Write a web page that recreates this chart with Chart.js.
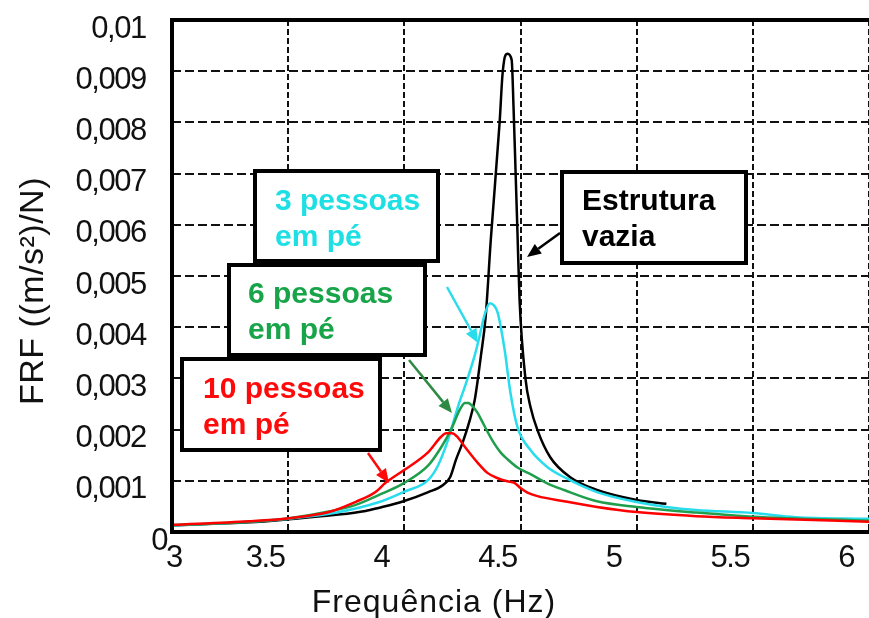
<!DOCTYPE html>
<html>
<head>
<meta charset="utf-8">
<title>FRF</title>
<script src="https://cdn.jsdelivr.net/npm/chart.js@4.4.0/dist/chart.umd.min.js"></script>
<style>
  html, body { margin: 0; padding: 0; background: #fff; }
  canvas { display: block; }
</style>
</head>
<body>
<canvas id="frf" width="869" height="618"></canvas>
<script>
// FRF curves, frequency in Hz, FRF in (m/s²)/N
const blackFreq = [3.0, 3.333, 3.504, 3.697, 3.833, 3.889, 3.996, 4.103, 4.167, 4.197, 4.222, 4.252, 4.282, 4.303, 4.316, 4.329, 4.350, 4.372, 4.410, 4.423, 4.436, 4.444, 4.462, 4.470, 4.479, 4.487, 4.496, 4.521, 4.543, 4.573, 4.628, 4.714, 4.829, 5.0, 5.128];
const blackFrf = [0.00013, 0.00019, 0.00025, 0.00033, 0.00041, 0.00047, 0.00060, 0.00078, 0.00092, 0.00107, 0.00141, 0.00176, 0.00219, 0.00258, 0.00297, 0.00342, 0.00420, 0.00570, 0.00799, 0.00896, 0.00932, 0.00934, 0.00922, 0.00830, 0.00701, 0.00584, 0.00453, 0.00301, 0.00244, 0.00199, 0.00146, 0.00107, 0.00082, 0.000625, 0.00055];

const cyanFreq = [3.0, 3.333, 3.504, 3.697, 3.889, 3.996, 4.103, 4.145, 4.188, 4.231, 4.265, 4.303, 4.320, 4.346, 4.368, 4.385, 4.402, 4.432, 4.457, 4.487, 4.543, 4.615, 4.688, 4.829, 5.0, 5.128, 5.256, 5.5, 5.684, 6.0];
const cyanFrf = [0.00013, 0.00020, 0.00026, 0.00037, 0.00058, 0.00078, 0.00102, 0.00130, 0.00180, 0.00245, 0.00290, 0.00345, 0.00375, 0.00425, 0.00447, 0.00443, 0.00428, 0.00355, 0.00271, 0.00205, 0.00160, 0.00127, 0.00107, 0.00078, 0.000586, 0.00049, 0.00043, 0.00037, 0.00029, 0.00026];

const greenFreq = [3.0, 3.333, 3.504, 3.675, 3.791, 3.889, 3.996, 4.103, 4.158, 4.201, 4.240, 4.261, 4.275, 4.295, 4.316, 4.337, 4.359, 4.380, 4.415, 4.444, 4.487, 4.543, 4.615, 4.688, 4.829, 5.0, 5.256, 5.5, 6.0];
const greenFrf = [0.00013, 0.00020, 0.00027, 0.00040, 0.00053, 0.00072, 0.00095, 0.00130, 0.00165, 0.00200, 0.00240, 0.00252, 0.00252, 0.00245, 0.00232, 0.00214, 0.00195, 0.00178, 0.00155, 0.00142, 0.00126, 0.00113, 0.00095, 0.00082, 0.00060, 0.00049, 0.00038, 0.00030, 0.00022];

const redFreq = [3.0, 3.333, 3.504, 3.675, 3.791, 3.876, 3.919, 3.996, 4.103, 4.158, 4.180, 4.205, 4.230, 4.261, 4.316, 4.359, 4.402, 4.444, 4.474, 4.5, 4.53, 4.573, 4.688, 4.829, 5.0, 5.256, 5.5, 6.0];
const redFrf = [0.00014, 0.00021, 0.00027, 0.00039, 0.00059, 0.00078, 0.00096, 0.00120, 0.00156, 0.00186, 0.00193, 0.00193, 0.00185, 0.00166, 0.00135, 0.00115, 0.00105, 0.00099, 0.00096, 0.00086, 0.00077, 0.00070, 0.00060, 0.00049, 0.00039, 0.00031, 0.00027, 0.00020];

const xTicks = [3, 3.5, 4, 4.5, 5, 5.5, 6];
const yMax = 0.01;

const FONT = '"Liberation Sans", Arial, sans-serif';

function pairs(xs, ys) {
  return xs.map((x, i) => ({ x, y: ys[i] }));
}

function yLabel(v) {
  const k = Math.round(v * 1000);
  if (k === 0) return '0';
  if (k === 10) return '0,01   ';
  return '0,00' + k + '   ';
}

// callout boxes with arrows pointing at each curve
const notes = [
  { lines: ['3 pessoas', 'em pé'], color: '#1ee0e4', box: [253, 169, 440, 263], tx: 275, ty: 210, arrow: [447, 287, 478, 343], arrowColor: '#2adcea' },
  { lines: ['6 pessoas', 'em pé'], color: '#18a449', box: [227, 263, 427, 357], tx: 248, ty: 303, arrow: [409, 360, 452, 413], arrowColor: '#2e8a42' },
  { lines: ['10 pessoas', 'em pé'], color: '#ff0a0a', box: [180, 357, 382, 452], tx: 203, ty: 398, arrow: [368, 453, 389, 483], arrowColor: '#ff0a0a' },
  { lines: ['Estrutura', 'vazia'], color: '#000', box: [560, 170, 748, 265], tx: 582, ty: 210, arrow: [560, 233, 527, 257], arrowColor: '#000' }
];

function drawArrow(ctx, x1, y1, x2, y2, color) {
  const ang = Math.atan2(y2 - y1, x2 - x1);
  const len = 14, half = 6;
  const bx = x2 - len * Math.cos(ang), by = y2 - len * Math.sin(ang);
  ctx.strokeStyle = color;
  ctx.fillStyle = color;
  ctx.lineWidth = 2.5;
  ctx.beginPath();
  ctx.moveTo(x1, y1);
  ctx.lineTo(bx, by);
  ctx.stroke();
  ctx.beginPath();
  ctx.moveTo(x2, y2);
  ctx.lineTo(bx + half * Math.sin(ang), by - half * Math.cos(ang));
  ctx.lineTo(bx - half * Math.sin(ang), by + half * Math.cos(ang));
  ctx.closePath();
  ctx.fill();
}

const tightText = {
  id: 'tightText',
  beforeLayout(chart) { chart.ctx.letterSpacing = '-1.5px'; },
  beforeDraw(chart) { chart.ctx.letterSpacing = '-1.5px'; }
};

const decorations = {
  id: 'decorations',
  afterDraw(chart) {
    const ctx = chart.ctx;
    const a = chart.chartArea;
    ctx.save();

    // frame
    ctx.strokeStyle = '#000';
    ctx.lineWidth = 4;
    ctx.beginPath();
    ctx.moveTo(a.right + 2, a.top);
    ctx.lineTo(a.left, a.top);
    ctx.lineTo(a.left, a.bottom);
    ctx.lineTo(a.right + 2, a.bottom);
    ctx.stroke();

    // callouts
    notes.forEach(n => {
      drawArrow(ctx, ...n.arrow, n.arrowColor);
      const [x1, y1, x2, y2] = n.box;
      ctx.fillStyle = '#fff';
      ctx.fillRect(x1, y1, x2 - x1, y2 - y1);
      ctx.strokeStyle = '#000';
      ctx.lineWidth = 4;
      ctx.strokeRect(x1 + 2, y1 + 2, x2 - x1 - 4, y2 - y1 - 4);
      ctx.letterSpacing = '0px';
      ctx.font = 'bold 30px ' + FONT;
      ctx.fillStyle = n.color;
      ctx.textAlign = 'left';
      ctx.textBaseline = 'alphabetic';
      n.lines.forEach((t, i) => ctx.fillText(t, n.tx, n.ty + i * 36));
    });

    // axis titles
    ctx.fillStyle = '#111';
    ctx.font = '32px ' + FONT;
    ctx.letterSpacing = '1px';
    ctx.textAlign = 'center';
    ctx.textBaseline = 'alphabetic';
    ctx.fillText('Frequência (Hz)', 434, 612);

    ctx.translate(43, 291);
    ctx.rotate(-Math.PI / 2);
    ctx.font = '34px ' + FONT;
    ctx.letterSpacing = '0.5px';
    ctx.fillText('FRF ((m/s²)/N)', 0, 0);
    ctx.restore();
  }
};

new Chart(document.getElementById('frf'), {
  type: 'line',
  data: {
    datasets: [
      { label: 'Estrutura vazia', data: pairs(blackFreq, blackFrf), borderColor: '#000000', order: 3 },
      { label: '3 pessoas em pé', data: pairs(cyanFreq, cyanFrf), borderColor: '#27dcec', order: 2 },
      { label: '6 pessoas em pé', data: pairs(greenFreq, greenFrf), borderColor: '#1f9e4c', order: 1 },
      { label: '10 pessoas em pé', data: pairs(redFreq, redFrf), borderColor: '#ff0000', order: 0 }
    ]
  },
  options: {
    responsive: false,
    animation: false,
    devicePixelRatio: 1,
    elements: {
      point: { radius: 0 },
      line: { borderWidth: 2.5, cubicInterpolationMode: 'monotone', fill: false }
    },
    layout: { padding: { top: 20, right: -5, bottom: 0, left: 0 } },
    plugins: { legend: { display: false }, tooltip: { enabled: false } },
    scales: {
      x: {
        type: 'linear',
        min: xTicks[0],
        max: xTicks[xTicks.length - 1],
        afterBuildTicks(scale) { scale.ticks = xTicks.map(v => ({ value: v })); },
        afterFit(scale) { scale.height = 86; scale.paddingLeft = 0; scale.paddingRight = 0; },
        ticks: {
          font: { family: FONT, size: 31 },
          color: '#111',
          padding: 8,
          labelOffset: -23,
          maxRotation: 0,
          autoSkip: false,
          callback: v => (v === 3 ? '       3' : String(v))
        },
        grid: { color: '#111', lineWidth: 2, drawTicks: false },
        border: { display: false, dash: [6, 3] }
      },
      y: {
        min: 0,
        max: yMax,
        afterFit(scale) { scale.width = 172; scale.paddingTop = 0; scale.paddingBottom = 0; },
        ticks: {
          stepSize: 0.001,
          font: { family: FONT, size: 31 },
          color: '#111',
          padding: 5,
          labelOffset: 9,
          callback: yLabel
        },
        grid: { color: '#111', lineWidth: 2, drawTicks: false },
        border: { display: false, dash: [9, 4] }
      }
    }
  },
  plugins: [tightText, decorations]
});
</script>
</body>
</html>
